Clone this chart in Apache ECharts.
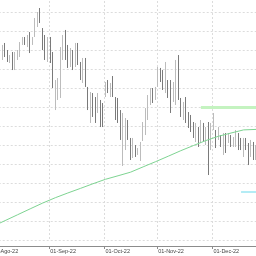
<!DOCTYPE html>
<html><head><meta charset="utf-8">
<script src="https://cdn.jsdelivr.net/npm/echarts@6/dist/echarts.min.js"></script>
<style>html,body{margin:0;padding:0;background:#fff;overflow:hidden;width:256px;height:256px;position:relative}
#c{position:absolute;left:-30px;top:-10px;width:306px;height:266px}</style>
</head><body><div id="c"></div>
<script>
var dates = [
'2022-07-25','2022-07-26','2022-07-27','2022-07-28','2022-07-29',
'2022-08-01','2022-08-02','2022-08-03','2022-08-04','2022-08-05','2022-08-08','2022-08-09','2022-08-10','2022-08-11','2022-08-12','2022-08-15','2022-08-16','2022-08-17','2022-08-18','2022-08-19','2022-08-22','2022-08-23','2022-08-24','2022-08-25','2022-08-26','2022-08-29','2022-08-30','2022-08-31',
'2022-09-01','2022-09-02','2022-09-05','2022-09-06','2022-09-07','2022-09-08','2022-09-09','2022-09-12','2022-09-13','2022-09-14','2022-09-15','2022-09-16','2022-09-19','2022-09-20','2022-09-21','2022-09-22','2022-09-23','2022-09-26','2022-09-27','2022-09-28','2022-09-29','2022-09-30',
'2022-10-03','2022-10-04','2022-10-05','2022-10-06','2022-10-07','2022-10-10','2022-10-11','2022-10-12','2022-10-13','2022-10-14','2022-10-17','2022-10-18','2022-10-19','2022-10-20','2022-10-21','2022-10-24','2022-10-25','2022-10-26','2022-10-27','2022-10-28','2022-10-31',
'2022-11-01','2022-11-02','2022-11-03','2022-11-04','2022-11-07','2022-11-08','2022-11-09','2022-11-10','2022-11-11','2022-11-14','2022-11-15','2022-11-16','2022-11-17','2022-11-18','2022-11-21','2022-11-22','2022-11-23','2022-11-24','2022-11-25','2022-11-28','2022-11-29','2022-11-30',
'2022-12-01','2022-12-02','2022-12-05','2022-12-06','2022-12-07','2022-12-08','2022-12-09','2022-12-12','2022-12-13','2022-12-14','2022-12-15','2022-12-16','2022-12-19','2022-12-20','2022-12-21','2022-12-22','2022-12-23','2022-12-26','2022-12-27','2022-12-28','2022-12-29','2022-12-30'];

var N = null;
var highs = [N,N,N,N,N,N,N,N,N,
100.53,100.74,100.00,99.47,99.79,99.79,100.00,100.84,101.37,101.37,101.58,101.89,101.37,103.37,104.00,104.42,102.31,101.58,101.37,101.37,
99.79,96.84,97.05,100.31,101.58,102.11,100.53,100.21,100.00,100.74,100.74,98.74,99.16,99.16,96.11,95.58,95.47,95.05,95.47,94.74,94.42,
96.63,96.84,96.53,97.26,95.05,94.95,93.68,93.37,92.84,92.63,90.74,90.74,90.00,89.68,90.32,92.42,93.89,95.26,96.00,96.00,96.11,
98.21,98.11,97.89,98.74,96.84,96.84,96.63,98.95,99.47,94.95,94.53,95.05,93.47,93.16,92.42,92.32,91.89,92.63,92.32,91.89,92.42,92.32,
93.37,91.58,91.89,91.05,91.26,91.26,91.26,91.05,90.84,91.58,91.26,90.74,90.74,90.74,90.21,90.53,90.32,90.00,N,N,N,N];
var lows = [N,N,N,N,N,N,N,N,N,
98.95,99.26,98.74,98.63,97.89,97.89,98.95,99.26,100.53,100.53,100.31,99.68,100.53,101.37,102.42,102.84,100.00,98.95,98.74,98.63,
96.00,93.68,94.74,94.95,98.95,98.95,98.11,98.21,97.89,98.21,98.42,96.84,96.53,96.11,93.68,92.32,92.95,92.32,93.37,91.89,91.89,
95.05,95.47,95.05,95.05,92.63,92.32,90.53,87.79,89.47,90.53,88.42,88.63,88.74,88.95,88.32,90.42,91.05,92.63,94.21,94.42,94.74,
96.11,96.63,95.79,95.47,94.95,93.37,94.53,94.21,94.74,92.95,92.63,92.32,91.79,91.37,90.74,90.32,89.79,90.21,90.32,90.00,86.84,89.47,
91.58,89.68,90.53,89.79,88.95,89.16,90.21,89.79,89.79,89.79,89.47,89.47,88.74,89.47,87.89,88.74,88.42,88.42,N,N,N,N];
var opens = [N,N,N,N,N,N,N,N,N,
99.2,100.4,99.8,98.8,99.5,98.2,99.2,99.5,100.7,101.2,100.6,101.5,100.7,101.6,102.8,104.1,102.0,101.2,99.2,101.0,
99.3,94.1,95.1,95.5,99.5,101.7,100.2,98.6,99.6,98.6,100.4,98.4,97.0,98.8,95.8,92.8,95.1,94.7,93.8,94.4,94.0,
95.3,96.6,95.3,96.9,94.8,94.6,93.3,88.4,90.0,92.2,90.4,89.0,89.8,89.1,88.7,90.7,91.5,93.0,94.5,95.8,95.0,
96.4,97.9,97.6,95.9,96.6,96.4,94.8,94.7,99.0,94.6,93.0,94.7,93.2,92.9,92.1,90.6,91.6,90.5,92.0,90.3,91.8,89.9,
91.9,91.3,90.8,90.8,89.3,90.9,90.4,90.8,90.0,90.1,91.0,90.5,89.0,90.5,89.9,89.0,90.0,88.7,N,N,N,N];
var closes = [N,N,N,N,N,N,N,N,N,
100.2,99.5,99.0,99.3,98.3,99.5,99.8,100.6,101.2,100.8,101.3,100.2,101.2,103.1,103.7,103.1,100.4,99.4,100.9,99.2,
96.5,96.4,96.7,99.8,101.1,99.5,98.6,99.8,98.3,100.3,98.8,97.2,98.8,96.5,94.1,95.1,93.4,92.7,95.1,92.3,92.3,
96.4,95.8,96.2,95.4,93.0,92.7,91.0,91.0,92.4,90.9,88.8,90.4,89.0,89.5,90.0,92.1,93.5,94.9,95.7,94.7,95.9,
97.9,96.9,96.1,98.3,95.3,93.8,96.3,98.5,95.2,93.3,94.2,92.7,92.1,91.7,91.0,92.0,90.1,92.3,90.6,91.6,88.0,91.9,
93.0,90.0,91.6,90.0,90.9,89.5,91.0,90.0,90.6,91.3,89.8,89.7,90.4,89.7,88.3,90.2,88.8,89.7,N,N,N,N];

var maDates  = ['2022-07-25','2022-08-01','2022-08-08','2022-08-15','2022-08-22','2022-08-29','2022-09-05','2022-09-12','2022-09-19','2022-09-26','2022-10-03','2022-10-10','2022-10-17','2022-10-24','2022-10-31','2022-11-07','2022-11-14','2022-11-21','2022-11-28','2022-12-05','2022-12-12','2022-12-19','2022-12-26','2022-12-30'];
var maValues = [80.80,81.42,82.04,82.66,83.28,83.89,84.45,84.95,85.43,85.92,86.39,86.76,87.14,87.70,88.25,88.82,89.40,89.94,90.47,90.92,91.26,91.59,91.64,91.68];

var greenLevelDates = ['2022-11-24','2022-12-30'];
var greenLevel = 93.95;
var cyanLevelDates = ['2022-12-16','2022-12-30'];
var cyanLevel = 85.05;

var monthStarts = ['2022-08-01','2022-09-01','2022-10-03','2022-11-01','2022-12-01'];
var monthLabels = ['01-Ago-22','01-Sep-22','01-Oct-22','01-Nov-22','01-Dec-22'];

var candles = dates.map(function(d,i){
  return highs[i]==null ? '-' : [opens[i], closes[i], lows[i], highs[i]];
});
function isMonth(idx, val){ return monthStarts.indexOf(val) >= 0; }

var chart = echarts.init(document.getElementById('c'), null, {renderer:'canvas'});
chart.setOption({
  animation:false,
  backgroundColor:'#ffffff',
  grid:{left:8.72, right:8.6, top:3, bottom:16},
  xAxis:{
    type:'category', data:dates, boundaryGap:true, offset:6,
    axisLine:{lineStyle:{color:'#8c8c8c', width:1}},
    axisTick:{show:true, interval:isMonth, length:3, lineStyle:{color:'#8c8c8c'}},
    axisLabel:{show:true, interval:isMonth, align:'left', margin:2, fontSize:5.5,
      fontFamily:'Liberation Sans', color:'#444',
      formatter:function(v){ var i = monthStarts.indexOf(v); return i>=0 ? monthLabels[i] : ''; }},
    splitLine:{show:true, interval:isMonth, lineStyle:{color:'#dcdcdc', type:[2,2], width:1}}
  },
  yAxis:{
    type:'value', min:80, max:106, interval:2,
    axisLine:{show:false}, axisTick:{show:false}, axisLabel:{show:false},
    splitLine:{show:true, lineStyle:{color:'#dcdcdc', type:[2,2], width:1}}
  },
  series:[
    {type:'candlestick', data:candles, barWidth:1.2,
      itemStyle:{color:'#bcbcbc', color0:'#7a7a7a', borderColor:'#bcbcbc', borderColor0:'#7a7a7a', borderWidth:1}},
    {type:'line', data:maDates.map(function(d,i){return [d, maValues[i]];}), showSymbol:false,
      lineStyle:{color:'#7ed492', width:1}},
    {type:'line', data:greenLevelDates.map(function(d){return [d, greenLevel];}), showSymbol:false,
      lineStyle:{color:'#c4f3c0', width:3}},
    {type:'line', data:cyanLevelDates.map(function(d){return [d, cyanLevel];}), showSymbol:false,
      lineStyle:{color:'#b4ecf5', width:2}}
  ]
});
</script></body></html>
